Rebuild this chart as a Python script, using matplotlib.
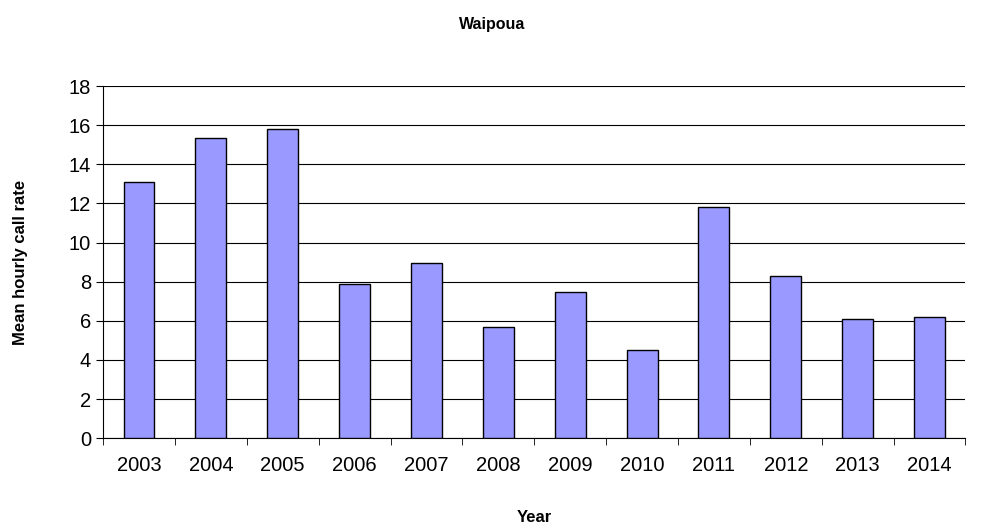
import matplotlib
matplotlib.use("Agg")
import matplotlib.pyplot as plt
import numpy as np

years = ["2003","2004","2005","2006","2007","2008","2009","2010","2011","2012","2013","2014"]
values = [13.1, 15.35, 15.8, 7.9, 8.95, 5.7, 7.5, 4.5, 11.8, 8.3, 6.1, 6.2]

plt.rcParams['font.family'] = ['Liberation Sans', 'DejaVu Sans']
fig = plt.figure(figsize=(9.85, 5.28), dpi=100)
ax = fig.add_axes([0.1046, 0.17, 0.8756, 0.667])
x = np.arange(len(years))
ax.bar(x, values, width=0.43, color='#9999FF', edgecolor='black', linewidth=1, zorder=3)
ax.set_xlim(-0.5, len(years) - 0.5)
ax.set_ylim(0, 18)
ax.set_yticks(range(0, 19, 2))
ax.yaxis.grid(True, color='black', linewidth=0.8, zorder=0)
ax.set_xticks(x)
ax.set_xticklabels(years, fontsize=14.5)
ax.set_xticks(np.arange(-0.5, len(years)), minor=True)
ax.tick_params(axis='x', which='major', length=0, pad=13)
ax.tick_params(axis='x', which='minor', length=5, direction='out')
ax.tick_params(axis='y', labelsize=14.5, length=5, direction='out')
for s in ['top', 'right']:
    ax.spines[s].set_visible(False)
ax.set_xlabel('Year', fontsize=12, fontweight='bold')
ax.set_ylabel('Mean hourly call rate', fontsize=12, fontweight='bold')
ax.yaxis.set_label_coords(-0.087, 0.5)
ax.xaxis.set_label_coords(0.5, -0.205)
fig.text(0.5, 0.945, 'Waipoua', ha='center', fontsize=11.5, fontweight='bold')
fig.savefig('out.png', dpi=100)
